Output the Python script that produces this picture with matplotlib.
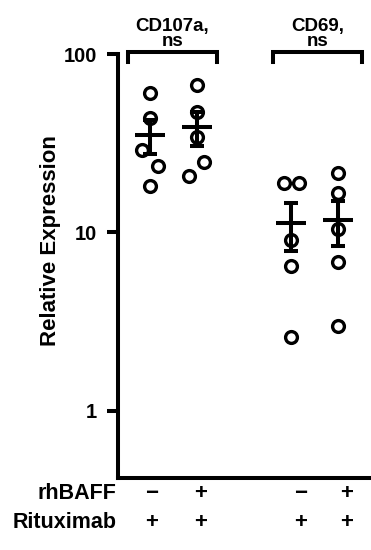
import matplotlib
matplotlib.use("Agg")
import matplotlib.pyplot as plt
import numpy as np

plt.rcParams["font.family"] = ["Liberation Sans", "DejaVu Sans"]
plt.rcParams["font.weight"] = "bold"

# Werte
cd107a_minus = [60.5, 43.9, 29.1, 23.7, 18.1]
cd107a_plus = [67.1, 47.4, 34.4, 24.9, 20.6]
cd69_minus = [19.0, 19.0, 9.1, 6.5, 2.6]
cd69_plus = [21.6, 16.7, 10.4, 6.8, 3.0]
groups = [cd107a_minus, cd107a_plus, cd69_minus, cd69_plus]

marker_names = ["CD107a,\nns", "CD69,\nns"]
rhbaff = ["\u2212", "+", "\u2212", "+"]
rituximab = ["+", "+", "+", "+"]
row_names = ["rhBAFF", "Rituximab"]

# Positionen / Jitter
pos = [1, 2, 4, 5]
jitter = [[0, 0, -0.17, 0.17, 0],
          [0, 0, 0, 0.15, -0.17],
          [-0.16, 0.16, 0, 0, 0],
          [0, 0, 0, 0, 0]]
sign_x = [1.04, 2.08, 4.2, 5.17]

fig = plt.figure(figsize=(3.71, 5.5), dpi=100)
ax = fig.add_axes([118 / 371, 1 - 478 / 550, 1 - 118 / 371, (478 - 54) / 550])

lw = 2.9
for p, vals, jit in zip(pos, groups, jitter):
    vals = np.array(vals)
    ax.plot(p + np.array(jit), vals, "o", mfc="white", mec="black",
            markersize=8.5, mew=2.4, zorder=2)
    m = vals.mean()
    sem = vals.std(ddof=1) / np.sqrt(len(vals))
    ax.errorbar(p, m, yerr=sem, fmt="none", ecolor="black", elinewidth=lw,
                capsize=4.7, capthick=lw, zorder=3)
    ax.plot([p - 0.32, p + 0.32], [m, m], "-", color="black", lw=lw,
            solid_capstyle="butt", zorder=3)

ax.set_yscale("log")
ax.set_ylim(0.42, 100)
ax.set_xlim(0.32, 5.7)
ax.set_yticks([1, 10, 100])
ax.set_yticklabels(["1", "10", "100"])
ax.yaxis.set_minor_locator(matplotlib.ticker.NullLocator())
ax.set_xticks([])
ax.tick_params(axis="y", length=8, width=lw, labelsize=14.5, pad=7)
for lab in ax.get_yticklabels():
    lab.set_fontweight("bold")

for s in ["top", "right"]:
    ax.spines[s].set_visible(False)
for s in ["left", "bottom"]:
    ax.spines[s].set_linewidth(lw)

ax.set_ylabel("Relative Expression", fontsize=16, fontweight="bold", va="center")
ax.yaxis.set_label_coords(-0.265, 0.561)

# Klammern oben
trans = ax.get_xaxis_transform()
for (x0, x1), name in zip([(0.53, 2.43), (3.62, 5.51)], marker_names):
    ax.plot([x0, x0, x1, x1], [0.981, 1.005, 1.005, 0.981], "-", color="black",
            lw=lw, transform=trans, clip_on=False, solid_joinstyle="miter")
    ax.text((x0 + x1) / 2, 1.01, name, transform=trans, ha="center", va="bottom",
            fontsize=13.5, fontweight="bold", linespacing=0.8)

# Tabelle unten
for row, (name, signs) in enumerate(zip(row_names, [rhbaff, rituximab])):
    y = -0.036 - row * 0.069
    ax.text(-0.005, y, name, transform=ax.transAxes, ha="right", va="center",
            fontsize=15.5, fontweight="bold")
    for x, s in zip(sign_x, signs):
        ax.text(x, y, s, transform=trans, ha="center", va="center",
                fontsize=16, fontweight="bold")

fig.savefig("out.png", dpi=100)
